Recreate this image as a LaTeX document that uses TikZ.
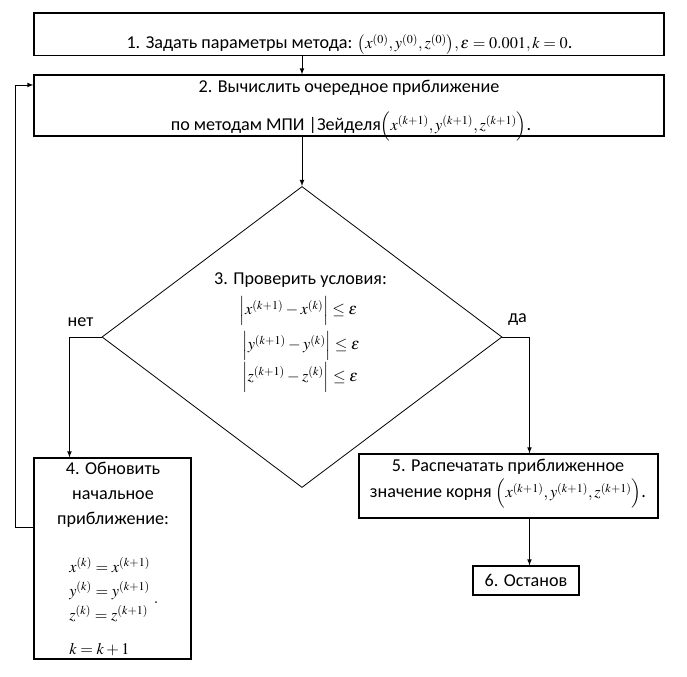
\documentclass[tikz,border=0pt]{standalone}
\usepackage{mathptmx}
\usepackage[no-math]{fontspec}
\setmainfont{Carlito}
\usetikzlibrary{shapes.geometric}
\newcommand{\mth}[1]{{\fontsize{12.2}{14}\selectfont$#1$}}

\begin{document}
\begin{tikzpicture}[x=0.75pt, y=-0.75pt, >=latex,
		every node/.style={font=\fontsize{13.6}{16}\selectfont, inner sep=0pt},
		block/.style={draw, line width=0.8pt},
		conn/.style={line width=0.6pt, ->}]
		\useasboundingbox (0,0) rectangle (687,677);
		% boxes of the scheme
		\node[block, minimum width=472.5pt, minimum height=31.9pt] (s1) at (349,34.25) {};
		\node[anchor=base] (t1) at (349.5,49) {1. Задать параметры метода: \mth{\bigl(x^{(0)}, y^{(0)}, z^{(0)}\bigr), \varepsilon = 0.001, k = 0}.};
		\node[block, minimum width=472.5pt, minimum height=45.75pt] (s2) at (349,105.5) {};
		\node[anchor=base] (t2a) at (349,92.7) {2. Вычислить очередное приближение};
		\node[anchor=base] (t2b) at (351,130.7) {по методам МПИ |Зейделя\mth{\Bigl(x^{(k+1)}, y^{(k+1)}, z^{(k+1)}\Bigr)}.};
		\node[diamond, draw, line width=0.6pt, minimum width=300pt, minimum height=225.75pt] (d3) at (302,337) {};
		\node[anchor=base] (t3) at (300.5,285) {3. Проверить условия:};
		\node[anchor=base] (c3a) at (298.5,315) {\mth{\Bigl|x^{(k+1)} - x^{(k)}\Bigr| \le \varepsilon}};
		\node[anchor=base] (c3b) at (301,350) {\mth{\Bigl|y^{(k+1)} - y^{(k)}\Bigr| \le \varepsilon}};
		\node[anchor=base] (c3c) at (300,381.7) {\mth{\Bigl|z^{(k+1)} - z^{(k)}\Bigr| \le \varepsilon}};
		\node[anchor=base] (no) at (80.5,327) {нет};
		\node[anchor=base] (yes) at (517.5,323) {да};
		\node[block, minimum width=117.75pt, minimum height=150.75pt] (s4) at (112.5,558.5) {};
		\node[anchor=base, align=center, font=\fontsize{13.6}{18.75}\selectfont] (t4) at (113,525) {4. Обновить\\начальное\\приближение:};
		\node[anchor=west] (e4) at (69,609) {\mth{\renewcommand{\arraystretch}{1.27}\begin{array}{@{}l@{}}
				x^{(k)} = x^{(k+1)}\\
				y^{(k)} = y^{(k+1)}\\
				z^{(k)} = z^{(k+1)}\\[8pt]
				k = k + 1
			\end{array}\;\raisebox{7.5pt}{$.$}}};
		\node[block, minimum width=224.25pt, minimum height=48pt] (s5) at (508.5,486) {};
		\node[anchor=base] (t5a) at (508,471.7) {5. Распечатать приближенное};
		\node[anchor=base] (t5b) at (508,498) {значение корня \mth{\Bigl(x^{(k+1)}, y^{(k+1)}, z^{(k+1)}\Bigr)}.};
		\node[block, minimum width=79.5pt, minimum height=21.75pt] (s6) at (526,580.5) {6. Останов};
		% connectors
		\draw[conn] (s1.south -| d3) -- (s2.north -| d3);
		\draw[conn] (s2.south -| d3) -- (d3.north);
		\draw[conn] (d3.west) -| ([xshift=27pt]s4.north west);
		\draw[conn] (d3.east) -| ([xshift=15.75pt]s5.north);
		\draw[conn] ([xshift=15.75pt]s5.south) -- ([xshift=15.75pt]s5.south |- s6.north);
		\draw[conn] ([yshift=23.6pt]s4.west) -- ++(-13.5pt,0) |- ([yshift=15.4pt]s2.west);
	\end{tikzpicture}
\end{document}
